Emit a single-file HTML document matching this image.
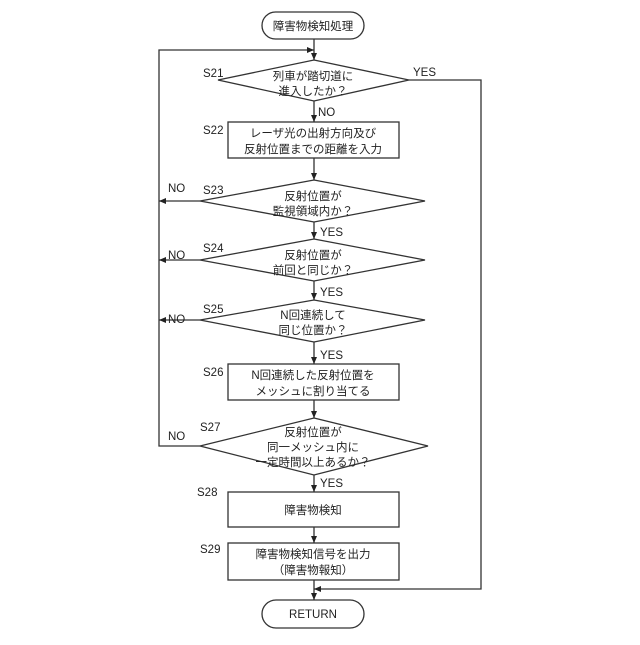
<!DOCTYPE html>
<html><head><meta charset="utf-8"><style>body{margin:0;background:#fff}svg text{font-family:"Liberation Sans","Noto Sans CJK JP",sans-serif;fill:#222}</style></head><body>
<svg width="640" height="640" viewBox="0 0 640 640" xmlns="http://www.w3.org/2000/svg">
<defs><marker id="a" markerWidth="8" markerHeight="8" refX="7" refY="4" orient="auto" markerUnits="userSpaceOnUse"><path d="M0,1 L7,4 L0,7 z" fill="#222"/></marker></defs>
<g stroke="#333" stroke-width="1.3" fill="#fff">
<rect x="262" y="12" width="102" height="27" rx="13.5"/>
<rect x="262" y="600" width="102" height="28" rx="14"/>
<polygon points="314,60 409,80 314,101 218,80"/>
<rect x="228" y="122" width="171" height="36"/>
<polygon points="314,180 425,201 314,222 200,201"/>
<polygon points="314,239 425,260 314,281 200,260"/>
<polygon points="314,300 425,320 314,342 200,320"/>
<rect x="228" y="364" width="171" height="36"/>
<polygon points="314,418 428,446 314,475 200,446"/>
<rect x="228" y="492" width="171" height="35"/>
<rect x="228" y="543" width="171" height="37"/>
</g>
<g stroke="#333" stroke-width="1.3" fill="none">
<line x1="314" y1="39" x2="314" y2="60" marker-end="url(#a)"/>
<polyline points="200,446 159,446 159,50 314,50" marker-end="url(#a)"/>
<line x1="314" y1="101" x2="314" y2="122" marker-end="url(#a)"/>
<line x1="314" y1="158" x2="314" y2="180" marker-end="url(#a)"/>
<line x1="314" y1="222" x2="314" y2="239" marker-end="url(#a)"/>
<line x1="314" y1="281" x2="314" y2="300" marker-end="url(#a)"/>
<line x1="314" y1="342" x2="314" y2="364" marker-end="url(#a)"/>
<line x1="314" y1="400" x2="314" y2="418" marker-end="url(#a)"/>
<line x1="314" y1="475" x2="314" y2="492" marker-end="url(#a)"/>
<line x1="314" y1="527" x2="314" y2="543" marker-end="url(#a)"/>
<line x1="314" y1="580" x2="314" y2="600" marker-end="url(#a)"/>
<polyline points="409,80 481,80 481,589 314,589" marker-end="url(#a)"/>
<line x1="200" y1="201" x2="159" y2="201" marker-end="url(#a)"/>
<line x1="200" y1="260" x2="159" y2="260" marker-end="url(#a)"/>
<line x1="200" y1="320" x2="159" y2="320" marker-end="url(#a)"/>
</g>
<g font-size="11.5" text-anchor="middle">
<text x="313" y="30">障害物検知処理</text>
<text x="313" y="80">列車が踏切道に</text><text x="313" y="95">進入したか？</text>
<text x="313" y="137">レーザ光の出射方向及び</text><text x="313" y="153">反射位置までの距離を入力</text>
<text x="313" y="200">反射位置が</text><text x="313" y="215">監視領域内か？</text>
<text x="313" y="259">反射位置が</text><text x="313" y="274">前回と同じか？</text>
<text x="313" y="319">N回連続して</text><text x="313" y="334">同じ位置か？</text>
<text x="313" y="379">N回連続した反射位置を</text><text x="313" y="395">メッシュに割り当てる</text>
<text x="313" y="436">反射位置が</text><text x="313" y="451">同一メッシュ内に</text><text x="313" y="466">一定時間以上あるか？</text>
<text x="313" y="514">障害物検知</text>
<text x="313" y="558">障害物検知信号を出力</text><text x="313" y="574">（障害物報知）</text>
<text x="313" y="618">RETURN</text>
</g>
<g font-size="11.5">
<text x="203" y="77">S21</text><text x="203" y="134">S22</text><text x="203" y="194">S23</text><text x="203" y="252">S24</text><text x="203" y="313">S25</text><text x="203" y="376">S26</text><text x="200" y="431">S27</text><text x="197" y="496">S28</text><text x="200" y="553">S29</text>
<text x="413" y="76">YES</text><text x="318" y="116">NO</text>
<text x="168" y="192">NO</text><text x="168" y="259">NO</text><text x="168" y="323">NO</text><text x="168" y="440">NO</text>
<text x="320" y="236">YES</text><text x="320" y="296">YES</text><text x="320" y="359">YES</text><text x="320" y="487">YES</text>
</g>
</svg>
</body></html>
